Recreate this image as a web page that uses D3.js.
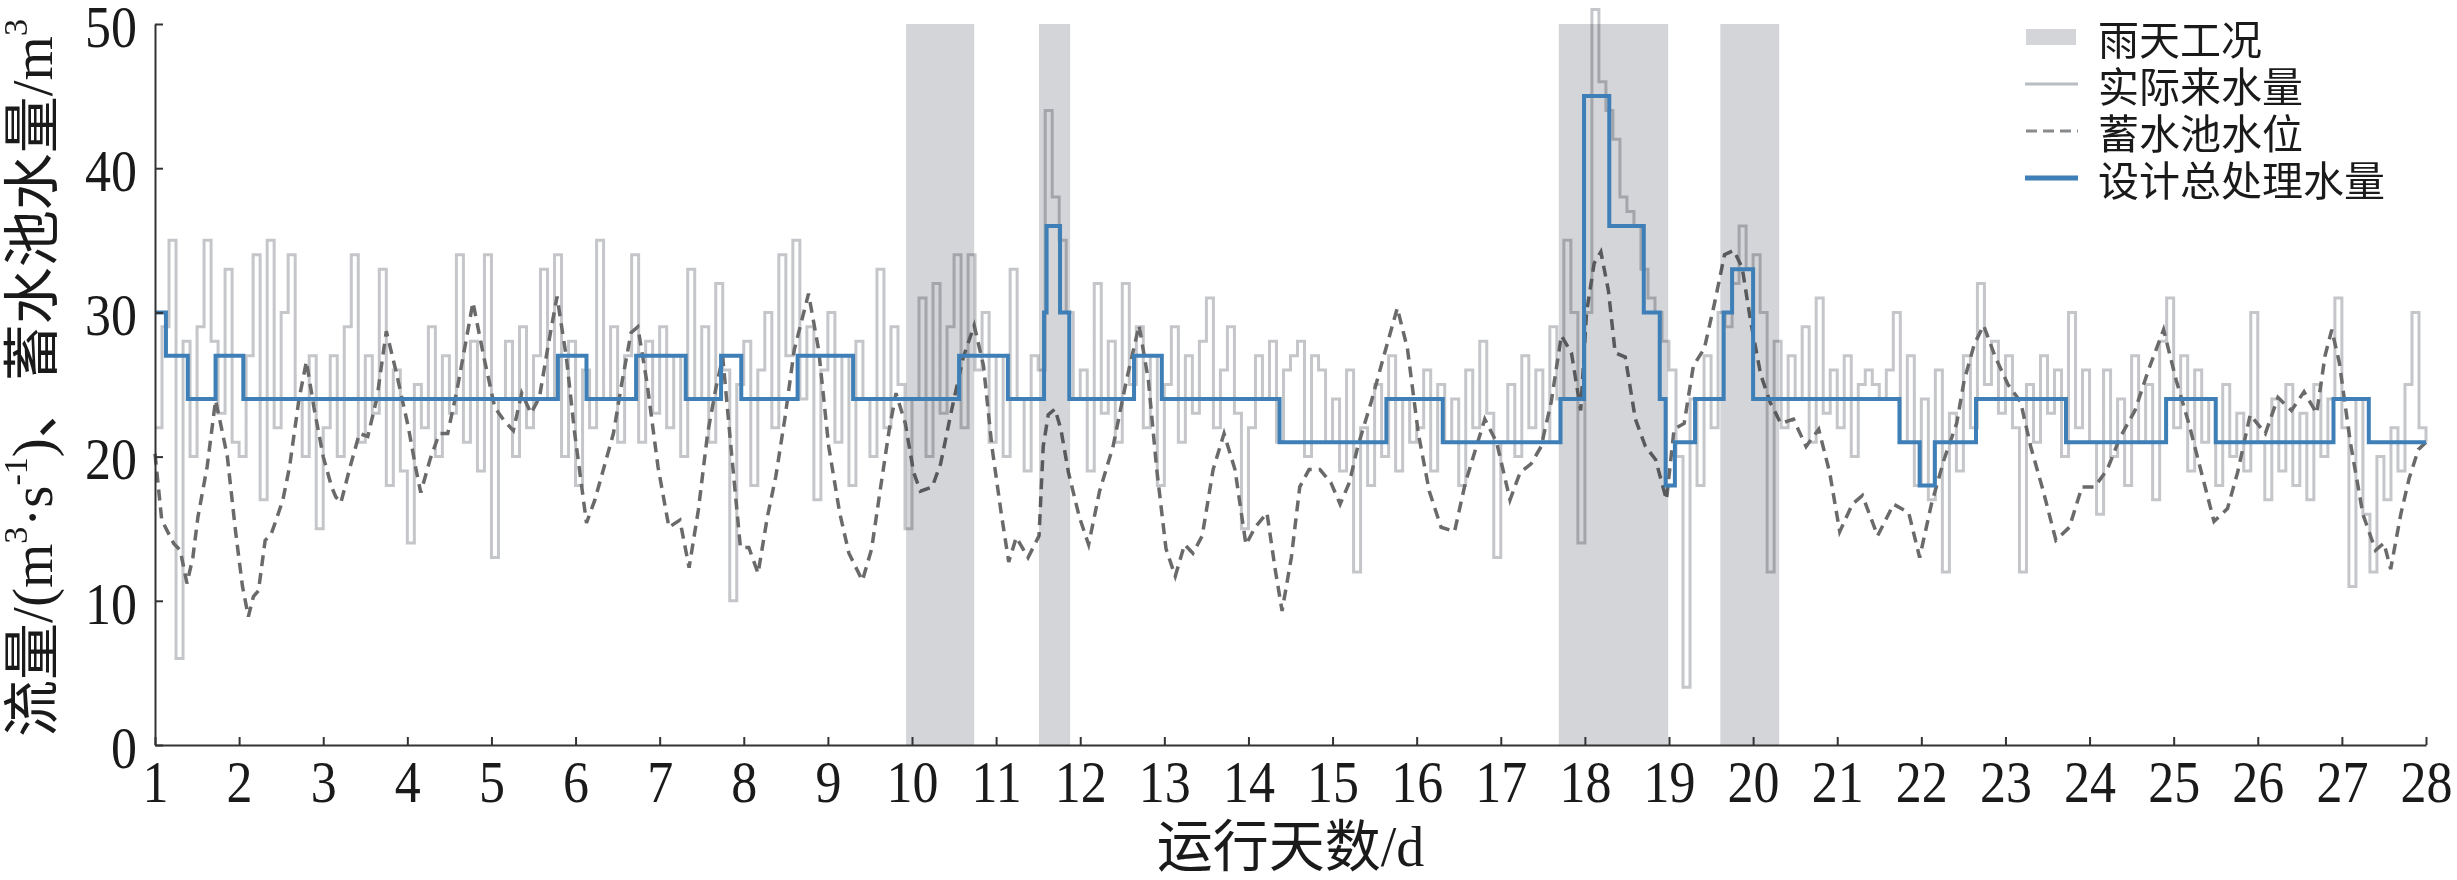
<!DOCTYPE html>
<html><head><meta charset="utf-8">
<script src="https://cdn.jsdelivr.net/npm/d3@7"></script>
<style>body{margin:0;background:#fff}svg{display:block}</style>
</head><body>
<svg id="c" width="2457" height="880"></svg>
<script>
// ---------------- data ----------------
const xTickValues = [1,2,3,4,5,6,7,8,9,10,11,12,13,14,15,16,17,18,19,20,21,22,23,24,25,26,27,28];
const yTickValues = [0,10,20,30,40,50];
const rainStart = [9.93, 11.51, 17.69, 19.61];
const rainEnd   = [10.74, 11.88, 18.99, 20.31];

// design total treatment (step, value holds from day until next day)
const designDay = [1,1.13,1.39,1.72,2.05,5.79,6.13,6.72,7.31,7.73,7.97,8.64,9.30,10.56,11.14,11.57,11.60,11.76,11.87,12.64,12.97,14.37,15.64,16.31,17.71,17.99,18.29,18.70,18.89,18.96,19.07,19.31,19.65,19.75,20.00,21.74,21.98,22.16,22.65,23.72,24.91,25.50,26.90,27.32,28];
const designVal = [30,27,24,27,24,27,24,27,24,27,24,27,24,27,24,30,36,30,24,27,24,21,24,21,24,45,36,30,24,18,21,24,30,33,24,21,18,21,24,21,24,21,24,21,21];

// actual inflow, one value every 2 hours (12 per day) from day 1 to day 28
const inflow = [
 22,29,35,6,28,20,29,35,28,23,33,21,
 20,27,34,17,35,22,30,34,24,20,27,15,
 22,27,20,29,34,21,27,23,33,18,26,19,
 14,25,22,29,20,27,23,34,21,28,19,34,
 13,24,28,20,29,22,27,33,24,34,20,28,
 18,26,22,35,24,29,21,27,34,21,28,23,
 29,22,27,20,33,24,29,21,32,26,10,25,
 28,18,26,30,22,34,27,35,24,29,17,26,
 30,21,27,18,28,24,20,33,22,29,25,15,
 24,31,20,32,23,29,34,22,34,26,30,21,
 27,20,33,24,19,27,26,44,38,35,30,24,
 26,19,32,23,28,21,32,25,29,22,27,18,
 25,29,21,27,23,28,31,22,26,29,23,15,
 22,27,24,28,21,26,27,28,20,27,26,21,
 24,19,26,12,22,18,25,20,27,19,24,21,
 22,26,19,25,21,24,18,26,22,28,23,13,
 21,25,20,27,22,26,21,29,24,35,30,14,
 30,51,46,44,42,38,37,36,33,31,30,28,
 26,20,4,24,18,27,22,30,29,32,36,33,
 34,30,12,28,22,27,24,29,21,31,23,26,
 22,27,20,25,26,25,24,26,30,21,27,18,
 24,17,26,12,23,19,27,22,32,25,28,23,
 27,22,12,25,21,27,23,26,20,30,22,26,
 21,16,26,20,24,18,27,21,25,17,28,31,
 22,27,19,26,21,24,18,25,20,23,19,30,
 21,17,24,19,25,18,23,17,25,20,24,31,
 22,11,24,16,12,20,17,22,19,25,30,22,
 21
];
const inflowPerDay = 12;

// storage pool level
const levelDay = [1.00,1.08,1.15,1.22,1.30,1.38,1.45,1.51,1.62,1.72,1.79,1.86,1.96,2.04,2.11,2.17,2.23,2.31,2.38,2.44,2.52,2.60,2.71,2.80,2.89,3.00,3.10,3.15,3.21,3.32,3.43,3.53,3.64,3.75,3.87,4.01,4.10,4.16,4.27,4.38,4.48,4.59,4.70,4.78,4.91,5.04,5.15,5.26,5.36,5.47,5.57,5.68,5.78,5.89,5.99,6.13,6.23,6.34,6.45,6.55,6.66,6.74,6.85,6.98,7.11,7.24,7.35,7.46,7.57,7.67,7.75,7.85,7.96,8.06,8.17,8.28,8.38,8.49,8.60,8.77,8.89,9.01,9.14,9.25,9.41,9.52,9.62,9.73,9.81,9.92,10.02,10.10,10.24,10.34,10.47,10.61,10.74,10.85,10.95,11.06,11.15,11.24,11.38,11.51,11.56,11.62,11.70,11.77,11.86,11.99,12.10,12.23,12.39,12.55,12.70,12.81,12.91,13.02,13.13,13.24,13.34,13.45,13.58,13.71,13.84,13.97,14.08,14.22,14.32,14.40,14.51,14.61,14.72,14.85,14.98,15.09,15.20,15.30,15.46,15.62,15.77,15.89,16.02,16.15,16.29,16.45,16.58,16.71,16.81,16.95,17.11,17.23,17.36,17.48,17.60,17.72,17.84,17.95,18.02,18.11,18.19,18.28,18.36,18.48,18.60,18.72,18.84,18.97,19.06,19.18,19.29,19.42,19.54,19.66,19.77,19.87,19.97,20.09,20.20,20.33,20.48,20.63,20.78,20.91,21.03,21.18,21.30,21.48,21.67,21.85,21.98,22.12,22.27,22.42,22.51,22.63,22.74,22.88,23.03,23.18,23.30,23.45,23.60,23.76,23.91,24.06,24.21,24.36,24.54,24.70,24.88,25.03,25.18,25.33,25.48,25.64,25.76,25.91,26.09,26.24,26.40,26.55,26.70,26.80,26.88,26.97,27.10,27.25,27.40,27.50,27.58,27.70,27.80,27.91,28.00];
const levelVal = [20.2,15.6,14.8,14.0,13.5,11.2,13.0,15.8,19.3,23.9,22.0,20.0,14.7,11.0,8.9,10.3,10.7,14.2,14.6,15.6,17.0,19.3,23.9,26.6,23.4,20.0,17.9,17.2,16.8,19.3,21.6,21.4,24.1,28.7,25.8,22.1,19.2,17.5,19.8,21.6,21.6,24.6,28.1,30.7,26.9,23.4,22.5,21.8,24.4,23.0,24.1,27.9,31.1,26.9,21.6,15.4,17.0,19.3,21.6,25.1,28.6,29.0,25.1,19.3,15.1,15.6,12.3,16.3,21.6,24.8,26.9,20.5,13.7,13.7,11.9,15.8,18.6,22.7,27.4,31.3,27.4,20.7,16.1,13.3,11.4,13.6,17.6,21.9,24.4,22.3,18.9,17.6,17.9,19.5,23.2,26.9,29.1,26.3,20.7,16.1,12.7,14.4,13.0,14.5,20.7,22.9,23.3,21.9,18.9,15.8,13.9,17.6,20.7,25.3,29.1,25.3,19.1,13.6,11.7,13.9,13.3,14.5,19.1,21.6,19.1,13.9,15.1,16.1,12.1,9.3,13.0,17.9,19.1,19.1,18.2,16.7,18.2,20.7,23.8,27.2,30.3,27.5,21.6,17.6,15.1,14.8,18.2,20.7,22.6,21.0,17.0,18.9,19.5,20.7,23.8,28.4,27.2,23.2,30.0,33.4,34.2,31.5,27.2,26.9,22.6,20.7,19.8,17.0,21.9,22.3,26.3,27.5,30.6,34.0,34.3,33.1,29.4,25.7,23.8,22.3,22.6,20.7,21.9,18.9,14.8,16.7,17.3,14.5,16.7,16.1,13.0,16.7,19.8,22.3,25.3,27.8,29.1,26.9,25.0,23.8,20.7,17.6,14.2,15.1,17.9,17.9,19.1,21.3,23.2,26.0,28.8,25.3,22.3,18.9,15.5,16.4,18.9,22.9,21.6,24.1,23.2,24.5,23.0,27.0,28.8,26.5,21.0,16.0,13.5,14.0,12.2,16.0,18.5,20.5,21.0];

const legendLabels = ["雨天工况","实际来水量","蓄水池水位","设计总处理水量"];

// ---------------- drawing ----------------
const svg = d3.select("#c");
const x = d3.scaleLinear().domain([1,28]).range([155,2426]);
const y = d3.scaleLinear().domain([0,50]).range([745,24]);

const plot = svg.append("g");

const inflowPts = inflow.map((v,i)=>[1+i/inflowPerDay, v]);
plot.append("path").datum(inflowPts)
  .attr("fill","none").attr("stroke","#c4c6c9").attr("stroke-width",3)
  .attr("d", d3.line().x(d=>x(d[0])).y(d=>y(d[1])).curve(d3.curveStepAfter));

const levelPts = levelDay.map((d,i)=>[d, levelVal[i]]);
plot.append("path").datum(levelPts)
  .attr("fill","none").attr("stroke","#6a6a6b").attr("stroke-width",3.5)
  .attr("stroke-dasharray","11,7")
  .attr("d", d3.line().x(d=>x(d[0])).y(d=>y(d[1])));

plot.selectAll("rect.rain").data(rainStart).join("rect")
  .attr("class","rain")
  .attr("x", (d)=>x(d)).attr("width",(d,i)=>x(rainEnd[i])-x(d))
  .attr("y", y(50)).attr("height", y(0)-y(50))
  .attr("fill","#d4d5d8").style("mix-blend-mode","multiply");

const designPts = designDay.map((d,i)=>[d, designVal[i]]);
plot.append("path").datum(designPts)
  .attr("fill","none").attr("stroke","#3d7fb6").attr("stroke-width",4)
  .attr("d", d3.line().x(d=>x(d[0])).y(d=>y(d[1])).curve(d3.curveStepAfter));

// axes
const tickFont = "'Liberation Serif','Times New Roman',serif";
const xAxis = svg.append("g").attr("transform",`translate(0,${y(0)})`)
  .call(d3.axisBottom(x).tickValues(xTickValues).tickSize(-8).tickSizeOuter(0).tickFormat(d3.format("d")));
const yAxis = svg.append("g").attr("transform",`translate(${x(1)},0)`)
  .call(d3.axisLeft(y).tickValues(yTickValues).tickSize(-8).tickSizeOuter(0).tickFormat(d3.format("d")));
[xAxis,yAxis].forEach(a=>{
  a.select(".domain").attr("stroke","#333").attr("stroke-width",2);
  a.selectAll(".tick line").attr("stroke","#333").attr("stroke-width",2);
  a.selectAll(".tick text").attr("fill","#1a1a1a").style("font-family",tickFont).style("font-size","52px");
});
xAxis.selectAll(".tick text").attr("y",0).attr("dy",0).attr("transform","translate(0,57) scale(1,1.12)");
yAxis.selectAll(".tick text").attr("x",0).attr("dy","0.35em").attr("transform","translate(-18,2) scale(1,1.12)");

// axis titles
const cjk = "'Noto Sans CJK SC','Noto Sans',sans-serif";
svg.append("text").attr("x", x(14.5)).attr("y", 866).attr("text-anchor","middle")
  .attr("fill","#1a1a1a").style("font-family",cjk).style("font-size","56px")
  .call(t=>{
    t.append("tspan").text("运行天数");
    t.append("tspan").style("font-family",tickFont).text("/d");
  });

const yt = svg.append("text").attr("transform","translate(52,378) rotate(-90)")
  .attr("text-anchor","middle").attr("fill","#1a1a1a")
  .style("font-family",cjk).style("font-size","57px");
const ySeg = [
  ["流量",cjk,0],["/(m",tickFont,0],["3",tickFont,1],["·s",tickFont,-1],["-1",tickFont,1],[")",tickFont,-1],
  ["、蓄水池水量",cjk,0],["/m",tickFont,0],["3",tickFont,1]
];
ySeg.forEach(([s,f,sup])=>{
  const ts = yt.append("tspan").style("font-family",f).text(s);
  if (sup===1) ts.style("font-size","34px").attr("dy","-0.75em");
  if (sup===-1) ts.attr("dy","0.45em");
});

// legend
const lg = svg.append("g");
const rowY = [37,84,131,178];
lg.append("rect").attr("x",2026).attr("y",rowY[0]-8).attr("width",50).attr("height",16).attr("fill","#d4d5d8");
lg.append("line").attr("x1",2025).attr("x2",2078).attr("y1",rowY[1]).attr("y2",rowY[1]).attr("stroke","#b9bcc0").attr("stroke-width",3);
lg.append("line").attr("x1",2026).attr("x2",2078).attr("y1",rowY[2]).attr("y2",rowY[2]).attr("stroke","#888a8c").attr("stroke-width",3).attr("stroke-dasharray","11,6");
lg.append("line").attr("x1",2025).attr("x2",2078).attr("y1",rowY[3]).attr("y2",rowY[3]).attr("stroke","#3d7fb6").attr("stroke-width",5);
lg.selectAll("text").data(legendLabels).join("text")
  .attr("x",2098).attr("y",(d,i)=>rowY[i]).attr("dominant-baseline","central")
  .attr("fill","#1a1a1a").style("font-family",cjk).style("font-size","41px")
  .text(d=>d);
</script>
</body></html>
